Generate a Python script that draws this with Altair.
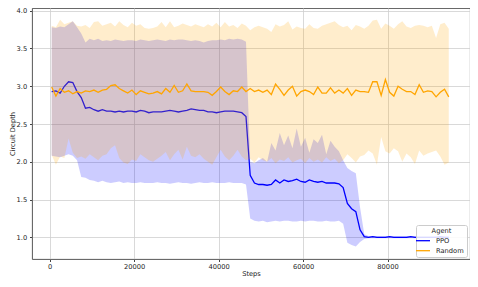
import altair as alt
import pandas as pd

steps = list(range(500, 95000, 1000))

ppo_mean = [2.93, 2.94, 2.91, 3.00, 3.06, 3.05, 2.93, 2.85, 2.71, 2.72,
            2.69, 2.67, 2.69, 2.67, 2.67, 2.66, 2.67, 2.66, 2.67, 2.67,
            2.66, 2.68, 2.67, 2.65, 2.66, 2.66, 2.66, 2.67, 2.68, 2.67,
            2.66, 2.67, 2.68, 2.70, 2.69, 2.68, 2.68, 2.66, 2.66, 2.65,
            2.66, 2.67, 2.67, 2.67, 2.66, 2.65, 2.60, 1.82, 1.72, 1.70,
            1.70, 1.69, 1.70, 1.76, 1.72, 1.76, 1.74, 1.75, 1.77, 1.74,
            1.73, 1.76, 1.74, 1.73, 1.74, 1.72, 1.72, 1.72, 1.71, 1.66,
            1.45, 1.38, 1.34, 1.10, 1.01, 1.00, 1.01, 1.00, 1.00, 1.00,
            1.01, 1.00, 1.00, 1.00, 1.00, 1.01, 1.00, 1.00, 1.00, 1.00,
            1.00, 1.00, 1.01, 1.00, 1.00]
ppo_hi = [3.78, 3.77, 3.79, 3.78, 3.82, 3.86, 3.78, 3.70, 3.58, 3.63,
          3.61, 3.63, 3.60, 3.61, 3.60, 3.62, 3.61, 3.60, 3.61, 3.61,
          3.60, 3.62, 3.61, 3.60, 3.61, 3.62, 3.61, 3.60, 3.62, 3.61,
          3.62, 3.62, 3.61, 3.60, 3.61, 3.60, 3.58, 3.60, 3.61, 3.61,
          3.62, 3.61, 3.63, 3.62, 3.63, 3.62, 3.59, 2.00, 1.98, 2.02,
          2.05, 2.00, 2.25, 2.15, 2.38, 2.22, 2.35, 2.18, 2.44, 2.20,
          2.32, 2.12, 2.30, 2.25, 2.36, 2.10, 2.28, 2.20, 2.14, 2.02,
          1.92, 1.88, 1.85, 1.40, 1.04, 1.02, 1.02, 1.02, 1.02, 1.02,
          1.02, 1.02, 1.02, 1.02, 1.02, 1.02, 1.02, 1.02, 1.02, 1.02,
          1.02, 1.02, 1.02, 1.02, 1.02]
ppo_lo = [2.08, 2.07, 2.06, 2.08, 2.10, 2.08, 2.02, 1.80, 1.79, 1.76,
          1.75, 1.73, 1.75, 1.73, 1.72, 1.73, 1.74, 1.72, 1.73, 1.72,
          1.72, 1.73, 1.72, 1.72, 1.72, 1.73, 1.72, 1.72, 1.71, 1.72,
          1.73, 1.72, 1.72, 1.71, 1.72, 1.73, 1.72, 1.72, 1.73, 1.72,
          1.72, 1.72, 1.73, 1.72, 1.72, 1.72, 1.70, 1.25, 1.22, 1.21,
          1.22, 1.20, 1.21, 1.22, 1.21, 1.22, 1.22, 1.21, 1.21, 1.22,
          1.21, 1.22, 1.22, 1.21, 1.21, 1.22, 1.21, 1.21, 1.22, 1.18,
          0.93, 0.90, 0.88, 0.94, 0.98, 0.99, 0.99, 0.99, 0.99, 0.99,
          0.99, 0.99, 0.99, 0.99, 0.99, 0.99, 0.99, 0.99, 0.99, 0.99,
          0.99, 0.99, 0.99, 0.99, 0.99]

rnd_mean = [2.99, 2.87, 2.97, 2.92, 2.94, 2.90, 2.93, 2.91, 2.94, 2.93,
            2.95, 2.92, 2.95, 2.96, 3.01, 3.02, 2.97, 2.94, 2.91, 2.95,
            2.89, 2.94, 2.92, 2.90,
            2.91, 2.93, 2.90, 2.97, 2.92, 3.01, 2.92, 2.94, 3.03, 2.94,
            2.93, 2.93, 2.93, 2.92, 2.88, 2.93, 2.99, 2.93, 2.89, 2.94,
            2.93, 2.99, 2.93, 2.97, 2.93, 2.95,
            2.92, 2.95, 2.89, 3.03, 2.96, 2.88, 2.95, 3.00, 2.87, 2.93,
            2.95, 2.93, 2.89, 2.99, 2.91, 2.91, 2.98, 2.91, 2.95, 2.91,
            2.97, 2.88, 2.95, 2.93,
            2.93, 2.92, 3.06, 3.06, 2.88, 3.09, 2.92, 2.87, 3.00, 2.96,
            2.93, 2.93, 2.89, 3.02, 2.92, 2.94, 2.93, 2.86, 2.92, 2.96,
            2.86]
rnd_hi = [3.80, 3.78, 3.88, 3.82, 3.84, 3.86, 3.80, 3.79, 3.81, 3.77,
          3.85, 3.86, 3.80, 3.82, 3.84, 3.79, 3.86, 3.81, 3.78, 3.84,
          3.80, 3.82, 3.77, 3.76,
          3.77, 3.79, 3.85, 3.78, 3.86, 3.78, 3.80, 3.83, 3.81, 3.79,
          3.82, 3.80, 3.78, 3.82, 3.79, 3.84, 3.78, 3.85, 3.79, 3.81,
          3.77, 3.83, 3.80, 3.74, 3.78, 3.80,
          3.78, 3.76, 3.72, 3.82, 3.79, 3.81, 3.86, 3.75, 3.79, 3.77,
          3.76, 3.82, 3.77, 3.76, 3.80, 3.82, 3.84, 3.86, 3.81, 3.78,
          3.80, 3.74, 3.81, 3.79,
          3.76, 3.80, 3.87, 3.88, 3.76, 3.83, 3.80, 3.76, 3.82, 3.86,
          3.79, 3.77, 3.80, 3.81, 3.80, 3.78, 3.80, 3.64, 3.82, 3.84,
          3.76]
rnd_lo = [2.09, 1.96, 2.07, 2.05, 2.31, 2.12, 2.05, 2.07, 2.04, 2.10,
          2.06, 2.02, 2.08, 2.10, 2.18, 2.22, 2.05, 1.99, 1.97, 2.03,
          2.01, 2.10, 2.06, 2.02,
          2.00, 2.04, 2.08, 2.13, 2.02, 2.10, 2.16, 2.03, 2.20, 2.08,
          2.06, 2.10, 2.04, 2.00, 1.96, 2.06, 2.16, 2.07, 2.02, 2.08,
          2.16, 2.07, 2.02,
          2.04, 1.99, 2.06, 2.02, 2.00, 2.05, 1.98, 2.03, 2.01, 2.06,
          1.99, 2.02, 2.04, 1.98, 2.05, 2.00, 2.03, 1.99, 2.06, 2.01,
          2.04, 1.98, 2.02, 2.10, 2.05, 1.99, 2.07,
          2.09, 2.15, 2.11, 1.96, 2.33, 2.14, 2.11, 2.18, 2.14, 2.00,
          2.11, 2.06, 1.97, 2.15, 2.08, 2.11, 2.13, 2.15, 2.07, 1.96,
          1.99]

agents = ["PPO", "Random"]
x_ticks = [0, 20000, 40000, 60000, 80000]
y_ticks = [1.0, 1.5, 2.0, 2.5, 3.0, 3.5, 4.0]

bands = pd.DataFrame({"step": steps, "ppo_lo": ppo_lo, "ppo_hi": ppo_hi,
                      "rnd_lo": rnd_lo, "rnd_hi": rnd_hi})
ppo_df = pd.DataFrame({"step": steps, "depth": ppo_mean, "Agent": "PPO"})
rnd_df = pd.DataFrame({"step": steps, "depth": rnd_mean, "Agent": "Random"})

xenc = alt.X("step:Q", scale=alt.Scale(domain=[-4160, 99530], nice=False, zero=False),
             axis=alt.Axis(values=x_ticks, format="d", title="Steps"))


def yenc(field):
    return alt.Y(field + ":Q", scale=alt.Scale(domain=[0.714, 4.036], nice=False, zero=False),
                 axis=alt.Axis(values=y_ticks, format=".1f", title="Circuit Depth"))


color = alt.Color("Agent:N", scale=alt.Scale(domain=agents, range=["blue", "orange"]),
                  legend=alt.Legend(title="Agent"))

ppo_band = alt.Chart(bands).mark_area(color="blue", opacity=0.2).encode(
    x=xenc, y=yenc("ppo_lo"), y2="ppo_hi:Q")
ppo_line = alt.Chart(ppo_df).mark_line(strokeWidth=1.3).encode(
    x=xenc, y=yenc("depth"), color=color)
rnd_band = alt.Chart(bands).mark_area(color="orange", opacity=0.2).encode(
    x=xenc, y=yenc("rnd_lo"), y2="rnd_hi:Q")
rnd_line = alt.Chart(rnd_df).mark_line(strokeWidth=1.3).encode(
    x=xenc, y=yenc("depth"), color=color)

chart = alt.layer(ppo_band, ppo_line, rnd_band, rnd_line).properties(
    width=438, height=251,
    padding={"left": 24, "top": 0, "right": 0, "bottom": 20},
    autosize=alt.AutoSizeParams(type="none"),
).configure_axis(
    labelFont="DejaVu Sans", titleFont="DejaVu Sans",
    labelFontSize=6.7, titleFontSize=6.7, titleFontWeight="normal",
    labelColor="#222222", titleColor="#222222",
    tickColor="#444444", tickSize=2.5, domain=False,
    gridColor="#cfcfcf", gridWidth=0.8,
).configure_axisX(
    labelPadding=1.5, titlePadding=1,
).configure_axisY(
    labelPadding=2.8, titlePadding=1,
).configure_view(
    stroke="#444444", strokeWidth=0.9,
).configure_legend(
    orient="none", legendX=384, legendY=217,
    padding=2.5, fillColor="rgba(255,255,255,0.85)", strokeColor="#cccccc",
    cornerRadius=2,
    titleFont="DejaVu Sans", labelFont="DejaVu Sans",
    titleFontSize=6.7, labelFontSize=6.7, titleFontWeight="normal",
    titleColor="#222222", labelColor="#222222",
    symbolType="M-2,0H2", symbolSize=49, symbolStrokeWidth=1.3,
    labelOffset=8.5, rowPadding=1, titlePadding=2,
    titleAnchor="middle", titleAlign="center",
)

chart.save("out.html", embed_options={"renderer": "svg", "actions": False})
